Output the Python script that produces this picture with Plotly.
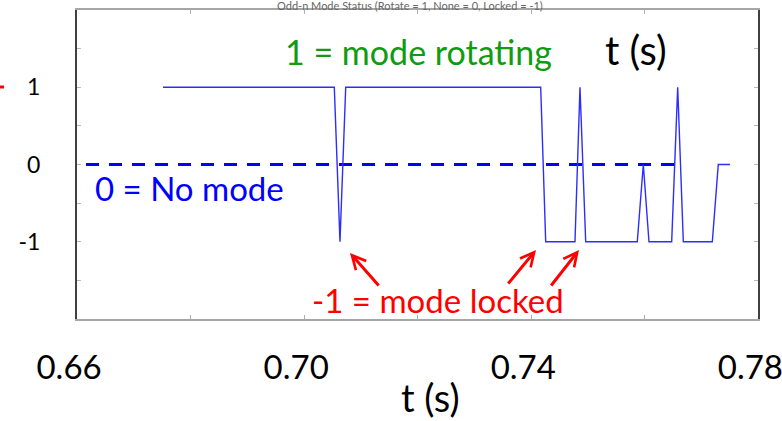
import plotly.graph_objects as go

# ---- data ----
status_t = [0.67515, 0.70534, 0.70634, 0.70735, 0.74171, 0.74259, 0.74775, 0.74863,
            0.74964, 0.75873, 0.75979, 0.76079, 0.76479, 0.76585, 0.76684, 0.77195,
            0.77300, 0.77507]
status_v = [1, 1, -1, 1, 1, -1, -1, 1, -1, -1, 0, -1, -1, 1, -1, -1, 0, 0]
zero_t = [0.66159, 0.76590]
zero_v = [0, 0]

inner_xticks = [0.68, 0.70, 0.72, 0.74, 0.76]
y_tickvals = [-1.5, -1, -0.5, 0, 0.5, 1, 1.5]
y_ticktext = ["", "-1", "", "0", "", "1", ""]
label_xticks = [0.66, 0.70, 0.74, 0.78]
label_xtext = ["0.66", "0.70", "0.74", "0.78"]

W, H = 782, 421
FONT = "Lato"

def px(x):
    return x / W

def py(y):
    return 1 - y / H

fig = go.Figure()
fig.add_trace(go.Scatter(x=zero_t, y=zero_v, mode="lines", xaxis="x", yaxis="y",
                         line=dict(color="rgb(0,0,255)", width=3, dash="13px,10px"),
                         hoverinfo="skip", showlegend=False))
fig.add_trace(go.Scatter(x=status_t, y=status_v, mode="lines", xaxis="x", yaxis="y",
                         line=dict(color="rgb(45,45,255)", width=1.4),
                         showlegend=False))
# helper trace for the tick-label axis
fig.add_trace(go.Scatter(x=[0.70], y=[None], xaxis="x2", yaxis="y2", mode="lines",
                         showlegend=False, hoverinfo="skip"))

fig.update_layout(
    width=W, height=H,
    margin=dict(l=0, r=0, t=0, b=0),
    paper_bgcolor="white", plot_bgcolor="rgba(0,0,0,0)",
    font=dict(family=FONT, color="black"),
    xaxis=dict(domain=[px(77), px(758)], range=[0.66, 0.78], anchor="y",
               showline=True, linecolor="#a6a6a6", linewidth=2, mirror="ticks",
               ticks="inside", ticklen=4, tickcolor="#b0b0b0", tickwidth=1,
               tickvals=inner_xticks, showticklabels=False,
               showgrid=False, zeroline=False),
    yaxis=dict(domain=[py(319), py(10)], range=[-2, 2], anchor="x",
               showline=True, linecolor="#404040", linewidth=2, mirror="ticks",
               ticks="inside", ticklen=4, tickcolor="#b8b8b8", tickwidth=1,
               tickvals=y_tickvals, ticktext=y_ticktext,
               ticklabelstandoff=30,
               tickfont=dict(family=FONT, size=23, color="black"),
               showgrid=False, zeroline=False),
    xaxis2=dict(domain=[0, 1], range=[0.64783, 0.78557], anchor="y2", side="bottom",
                tickvals=label_xticks, ticktext=label_xtext, ticks="",
                ticklabelstandoff=26, ticklabeloverflow="allow",
                tickfont=dict(family=FONT, size=33, color="black"),
                showline=False, showgrid=False, zeroline=False),
    yaxis2=dict(domain=[py(319), py(10)], range=[-2, 2], anchor="x2",
                visible=False, showgrid=False, zeroline=False),
)

ann = [
    dict(text="1 = mode rotating", x=px(419), y=py(52), color="#109c10", size=34),
    dict(text="t (s)", x=px(636), y=py(50), color="black", size=40),
    dict(text="0 = No mode", x=px(189), y=py(188), color="#0000ff", size=33),
    dict(text="-1 = mode locked", x=px(438), y=py(300), color="#ff0000", size=33),
    dict(text="t (s)", x=px(430), y=py(397), color="black", size=38),
    dict(text="Odd-n Mode Status (Rotate = 1, None = 0, Locked = -1)", x=px(410), y=py(5),
         color="#666666", size=11),
]
for a in ann:
    fig.add_annotation(text=a["text"], x=a["x"], y=a["y"], xref="paper", yref="paper",
                       xanchor="center", yanchor="middle", showarrow=False,
                       font=dict(family=FONT, size=a["size"], color=a["color"]))

arrows = [((350, 253), (30, 34)), ((536, 250), (-29, 35)), ((579, 250), (-29, 37))]
for (hx, hy), (dx, dy) in arrows:
    fig.add_annotation(text="", x=px(hx), y=py(hy), xref="paper", yref="paper",
                       ax=dx, ay=dy, showarrow=True, arrowhead=5, arrowsize=0.9,
                       arrowwidth=3, arrowcolor="#ff0000")

fig.add_shape(type="line", xref="paper", yref="paper", x0=px(0), x1=px(4),
              y0=py(87), y1=py(87), line=dict(color="#ff0000", width=3))

fig.write_html("out.html")
